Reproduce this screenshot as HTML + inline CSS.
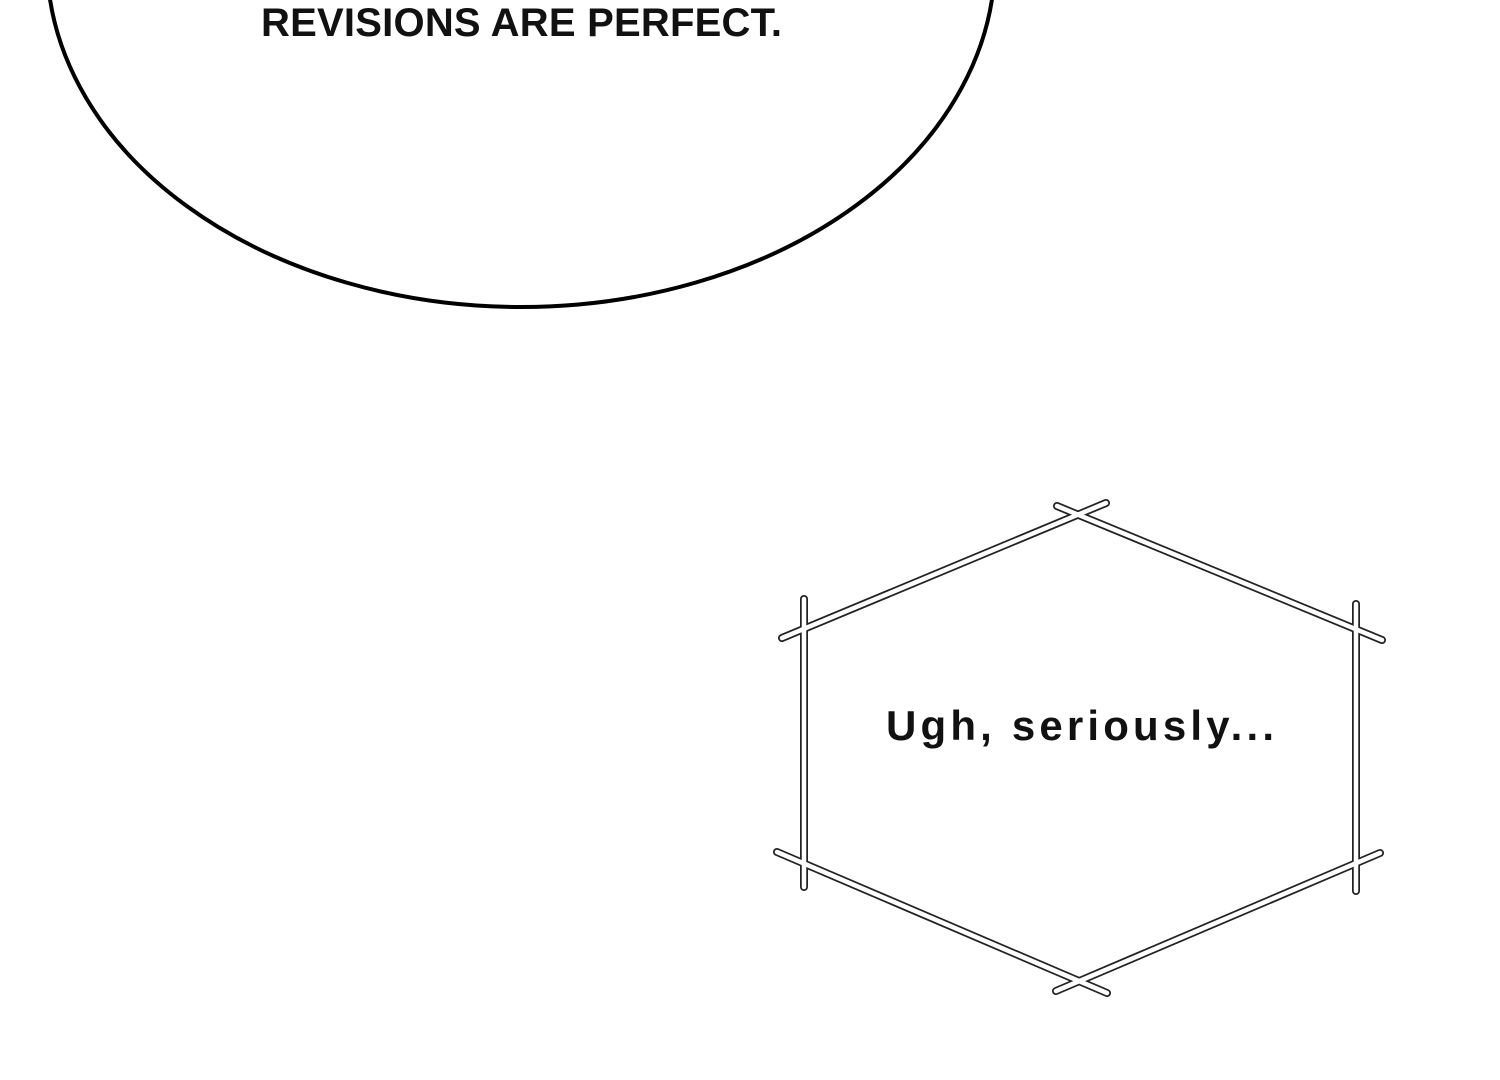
<!DOCTYPE html>
<html><head><style>
html,body{margin:0;padding:0;background:#fff;width:1500px;height:1080px;overflow:hidden;}
</style></head><body>
<svg width="1500" height="1080" viewBox="0 0 1500 1080" xmlns="http://www.w3.org/2000/svg" style="position:absolute;left:0;top:0">
<ellipse cx="521" cy="-40" rx="474" ry="347" fill="#fff" stroke="#000" stroke-width="4"/>
<text x="522" y="36" text-anchor="middle" font-family="Liberation Sans, sans-serif" font-size="40" font-weight="bold" fill="#111" letter-spacing="1" textLength="522">REVISIONS ARE PERFECT.</text>
<g stroke-linecap="round">
<g stroke="#222" stroke-width="8">
<line x1="782" y1="638" x2="1106" y2="503"/>
<line x1="1057" y1="506" x2="1382" y2="640"/>
<line x1="804" y1="599" x2="804" y2="887"/>
<line x1="1356" y1="604" x2="1356" y2="891"/>
<line x1="777" y1="852" x2="1107" y2="993"/>
<line x1="1056" y1="991" x2="1380" y2="853"/>
</g>
<g stroke="#fff" stroke-width="4.5">
<line x1="782" y1="638" x2="1106" y2="503"/>
<line x1="1057" y1="506" x2="1382" y2="640"/>
<line x1="804" y1="599" x2="804" y2="887"/>
<line x1="1356" y1="604" x2="1356" y2="891"/>
<line x1="777" y1="852" x2="1107" y2="993"/>
<line x1="1056" y1="991" x2="1380" y2="853"/>
</g>
</g>
<text x="1080" y="740" text-anchor="middle" font-family="Liberation Sans, sans-serif" font-size="42" font-weight="bold" fill="#111" textLength="388">Ugh, seriously...</text>
</svg>
</body></html>
